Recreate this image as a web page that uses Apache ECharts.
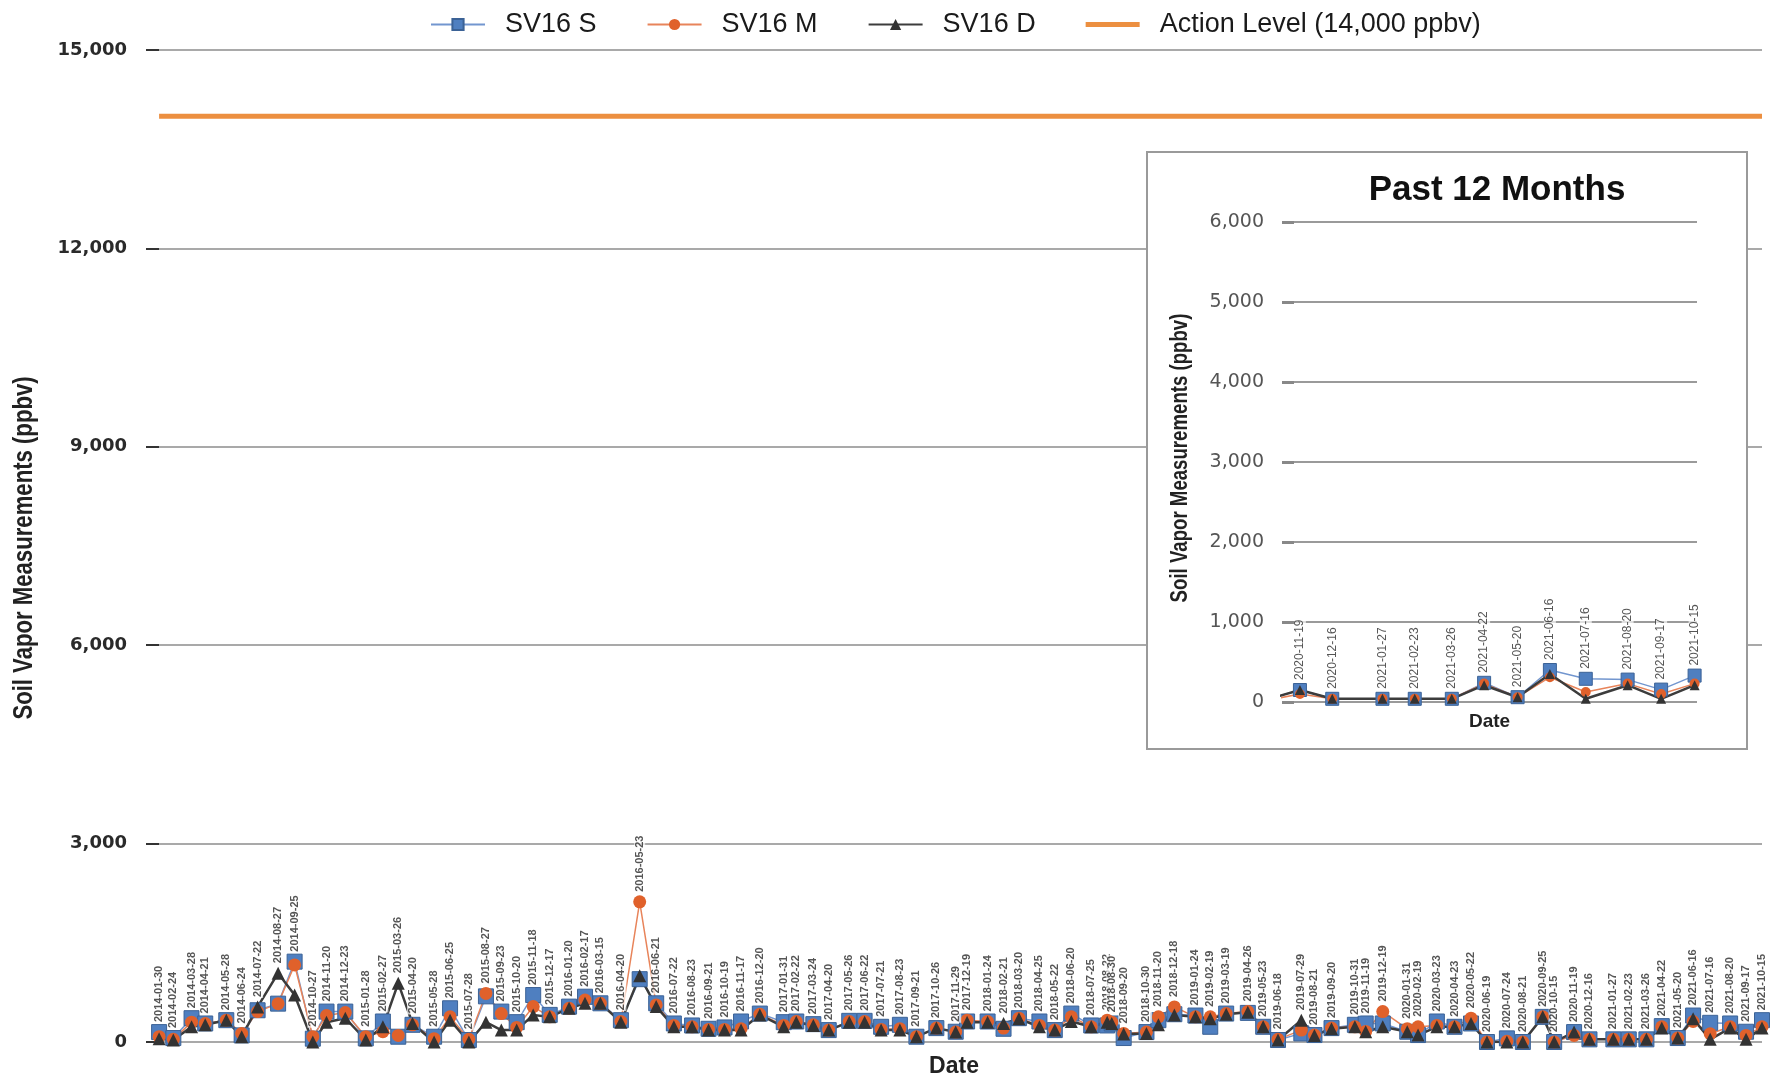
<!DOCTYPE html>
<html>
<head>
<meta charset="utf-8">
<script src="https://cdn.jsdelivr.net/npm/echarts@6/dist/echarts.min.js"></script>
<style>
html,body{margin:0;padding:0;background:#fff;}
#chart{width:1784px;height:1079px;}
</style>
</head>
<body>
<div id="chart"></div>
<script>
// ---------- DATA ----------
const dates = [
'2014-01-30','2014-02-24','2014-03-28','2014-04-21','2014-05-28','2014-06-24','2014-07-22','2014-08-27','2014-09-25','2014-10-27','2014-11-20','2014-12-23',
'2015-01-28','2015-02-27','2015-03-26','2015-04-20','2015-05-28','2015-06-25','2015-07-28','2015-08-27','2015-09-23','2015-10-20','2015-11-18','2015-12-17',
'2016-01-20','2016-02-17','2016-03-15','2016-04-20','2016-05-23','2016-06-21','2016-07-22','2016-08-23','2016-09-21','2016-10-19','2016-11-17','2016-12-20',
'2017-01-31','2017-02-22','2017-03-24','2017-04-20','2017-05-26','2017-06-22','2017-07-21','2017-08-23','2017-09-21','2017-10-26','2017-11-29','2017-12-19',
'2018-01-24','2018-02-21','2018-03-20','2018-04-25','2018-05-22','2018-06-20','2018-07-25','2018-08-22','2018-08-30','2018-09-20','2018-10-30','2018-11-20','2018-12-18',
'2019-01-24','2019-02-19','2019-03-19','2019-04-26','2019-05-23','2019-06-18','2019-07-29','2019-08-21','2019-09-20','2019-10-31','2019-11-19','2019-12-19',
'2020-01-31','2020-02-19','2020-03-23','2020-04-23','2020-05-22','2020-06-19','2020-07-24','2020-08-21','2020-09-25','2020-10-15','2020-11-19','2020-12-16',
'2021-01-27','2021-02-23','2021-03-26','2021-04-22','2021-05-20','2021-06-16','2021-07-16','2021-08-20','2021-09-17','2021-10-15'
];
const sv16S = [
150,60,360,280,330,100,480,580,1215,50,460,460,
55,310,80,260,80,510,30,690,460,300,710,410,
535,685,585,330,950,585,280,250,200,220,310,430,
300,310,270,180,320,320,230,260,80,210,155,310,
310,200,360,310,180,430,250,250,280,60,150,330,420,
400,230,430,440,230,30,130,105,210,260,280,280,
155,105,310,230,280,0,55,0,380,0,150,40,
40,40,40,240,60,400,290,280,155,330
];
const sv16M = [
80,40,300,280,330,130,460,580,1165,80,400,445,
80,155,100,260,50,380,40,735,430,220,535,380,
510,635,585,310,2120,560,250,230,190,190,200,420,
250,310,260,180,310,310,190,200,80,210,150,330,
310,210,360,250,180,380,230,330,300,130,150,380,530,
380,380,430,460,230,40,180,105,210,230,160,460,
200,230,250,230,360,0,10,0,380,0,100,40,
40,40,40,230,60,310,125,230,100,230
];
const sv16D = [
50,30,230,260,330,80,530,1040,710,0,300,360,
30,230,890,280,0,330,0,300,180,180,410,380,
510,585,585,300,1000,535,230,230,180,180,180,410,
230,300,250,180,300,300,180,180,80,210,150,300,
300,280,350,230,180,310,230,300,280,120,130,260,410,
380,350,420,450,230,30,330,100,200,230,155,230,
155,105,230,230,280,0,0,0,380,0,150,40,
40,40,40,210,60,350,40,210,40,210
];
const actionLevel = 14000;
const mainYTicks = {min: 0, max: 15000, interval: 3000};
const insetYTicks = {min: 0, max: 6000, interval: 1000};
const insetFirstDate = '2020-10-15';   // previous sample, clipped at the inset's left edge
const mainXRange = ['2014-01-07', '2021-10-15'];
const insetXRange = ['2020-11-04', '2021-10-17'];
const yTitle = 'Soil Vapor Measurements (ppbv)';
const legendNames = ['SV16 S', 'SV16 M', 'SV16 D', 'Action Level (14,000 ppbv)'];

// ---------- BUILD ----------
const insetStart = dates.indexOf(insetFirstDate);
const pairs = (arr, from) => arr.slice(from).map((v, i) => [dates[from + i], v]);
const maxPts = (from) => dates.slice(from).map((d, i) =>
  [d, Math.max(sv16S[from + i], sv16M[from + i], sv16D[from + i])]);

const fmt = v => v.toLocaleString('en-US');
const C_S = '#4F7FC0', C_S_LINE = '#7296cf';
const C_M = '#E0612B', C_M_LINE = '#E8845A';
const C_D = '#333333', C_D_LINE = '#3c3c3c';
const C_A = '#EC8F40';
const SANS = "'Liberation Sans', Arial, sans-serif";

function trio(xi, yi, from, sizes, z) {
  return [
    {name: legendNames[0], type: 'line', xAxisIndex: xi, yAxisIndex: yi, data: pairs(sv16S, from),
     symbol: 'rect', symbolSize: sizes[0], clip: true, z: z,
     itemStyle: {color: C_S, borderColor: '#3b6296', borderWidth: 1},
     lineStyle: {color: C_S_LINE, width: 1.5}},
    {name: legendNames[1], type: 'line', xAxisIndex: xi, yAxisIndex: yi, data: pairs(sv16M, from),
     symbol: 'circle', symbolSize: sizes[1], clip: true, z: z,
     itemStyle: {color: C_M},
     lineStyle: {color: C_M_LINE, width: 1.5}},
    {name: legendNames[2], type: 'line', xAxisIndex: xi, yAxisIndex: yi, data: pairs(sv16D, from),
     symbol: 'triangle', symbolSize: sizes[2], clip: true, z: z,
     itemStyle: {color: C_D},
     lineStyle: {color: C_D_LINE, width: 2.5}}
  ];
}

const chart = echarts.init(document.getElementById('chart'));
const option = {
  backgroundColor: '#ffffff',
  animation: false,
  legend: {
    top: 6, left: 425, itemWidth: 54, itemHeight: 14, itemGap: 50,
    data: [legendNames[0], legendNames[1], legendNames[2],
           {name: legendNames[3], icon: 'path://M0,0 L54,0 L54,5 L0,5 Z'}],
    textStyle: {fontFamily: SANS, fontSize: 27, color: '#1a1a1a', padding: [0, 0, 0, 15]}
  },
  grid: [
    {left: 146, right: 22, top: 50, bottom: 37, outerBoundsMode: 'none', containLabel: false},
    {left: 1282, right: 87, top: 222, bottom: 377, outerBoundsMode: 'none', containLabel: false}
  ],
  xAxis: [
    {type: 'time', gridIndex: 0, min: mainXRange[0], max: mainXRange[1],
     axisLabel: {show: false}, axisTick: {show: false}, axisLine: {show: false}, splitLine: {show: false},
     name: 'Date', nameLocation: 'middle', nameGap: 13,
     nameTextStyle: {fontFamily: SANS, fontWeight: 'bold', fontSize: 23, color: '#222'}},
    {type: 'time', gridIndex: 1, min: insetXRange[0], max: insetXRange[1], z: 3,
     axisLabel: {show: false}, axisTick: {show: false}, axisLine: {show: false}, splitLine: {show: false},
     name: 'Date', nameLocation: 'middle', nameGap: 10,
     nameTextStyle: {fontFamily: SANS, fontWeight: 'bold', fontSize: 19, color: '#222'}}
  ],
  yAxis: [
    {type: 'value', gridIndex: 0, min: mainYTicks.min, max: mainYTicks.max, interval: mainYTicks.interval,
     axisLine: {show: false},
     axisTick: {show: true, inside: true, length: 13, lineStyle: {color: '#333', width: 2}},
     axisLabel: {formatter: fmt, margin: 19, fontFamily: 'DejaVu Sans', fontWeight: 'bold', fontSize: 18, color: '#2a2a2a'},
     splitLine: {show: true, lineStyle: {color: '#a9a9a9', width: 2}}},
    {type: 'value', gridIndex: 1, min: insetYTicks.min, max: insetYTicks.max, interval: insetYTicks.interval, z: 3,
     axisLine: {show: false},
     axisTick: {show: true, inside: true, length: 12, lineStyle: {color: '#888', width: 3}},
     axisLabel: {formatter: fmt, margin: 18, fontFamily: 'DejaVu Sans', fontSize: 19, color: '#555'},
     splitLine: {show: true, lineStyle: {color: '#9a9a9a', width: 2}}}
  ],
  graphic: [
    {type: 'rect', z: 1, shape: {x: 1147, y: 152, width: 600, height: 597},
     style: {fill: '#ffffff', stroke: '#9a9a9a', lineWidth: 2}},
    {type: 'text', z: 5, x: 1497, y: 190,
     style: {text: 'Past 12 Months', fontFamily: SANS, fontWeight: 'bold', fontSize: 35,
             fill: '#111', align: 'center', verticalAlign: 'middle'}},
    {type: 'text', z: 5, x: 25, y: 548, rotation: Math.PI / 2, scaleX: 0.82,
     style: {text: yTitle, fontFamily: SANS, fontWeight: 'bold', fontSize: 27,
             fill: '#222', align: 'center', verticalAlign: 'middle'}},
    {type: 'text', z: 5, x: 1181, y: 458, rotation: Math.PI / 2, scaleX: 0.81,
     style: {text: yTitle, fontFamily: SANS, fontWeight: 'bold', fontSize: 23,
             fill: '#222', align: 'center', verticalAlign: 'middle'}}
  ],
  series: [
    ...trio(0, 0, 0, [15, 13, 13], 2),
    {name: legendNames[3], type: 'line', xAxisIndex: 0, yAxisIndex: 0, symbol: 'none',
     data: [[dates[0], actionLevel], [dates[dates.length - 1], actionLevel]],
     lineStyle: {color: C_A, width: 5}, itemStyle: {color: C_A}, z: 2},
    {name: 'labelsMain', type: 'scatter', xAxisIndex: 0, yAxisIndex: 0, data: maxPts(0),
     symbolSize: 0, silent: true, z: 6,
     label: {show: true, position: 'top', distance: 9, rotate: 90, align: 'left', verticalAlign: 'middle',
             formatter: p => p.value[0], fontFamily: SANS, fontWeight: 'bold', fontSize: 11,
             color: '#2a2a2a', backgroundColor: 'rgba(255,255,255,0.85)', padding: [0, 1]}},
    ...trio(1, 1, insetStart, [13, 10, 10], 4),
    {name: 'labelsInset', type: 'scatter', xAxisIndex: 1, yAxisIndex: 1, data: maxPts(insetStart + 1),
     symbolSize: 0, silent: true, z: 6,
     label: {show: true, position: 'top', distance: 9, rotate: 90, align: 'left', verticalAlign: 'middle',
             formatter: p => p.value[0], fontFamily: SANS, fontSize: 12,
             color: '#2a2a2a', backgroundColor: 'rgba(255,255,255,0.85)', padding: [0, 1]}}
  ]
};
chart.setOption(option);
</script>
</body>
</html>
